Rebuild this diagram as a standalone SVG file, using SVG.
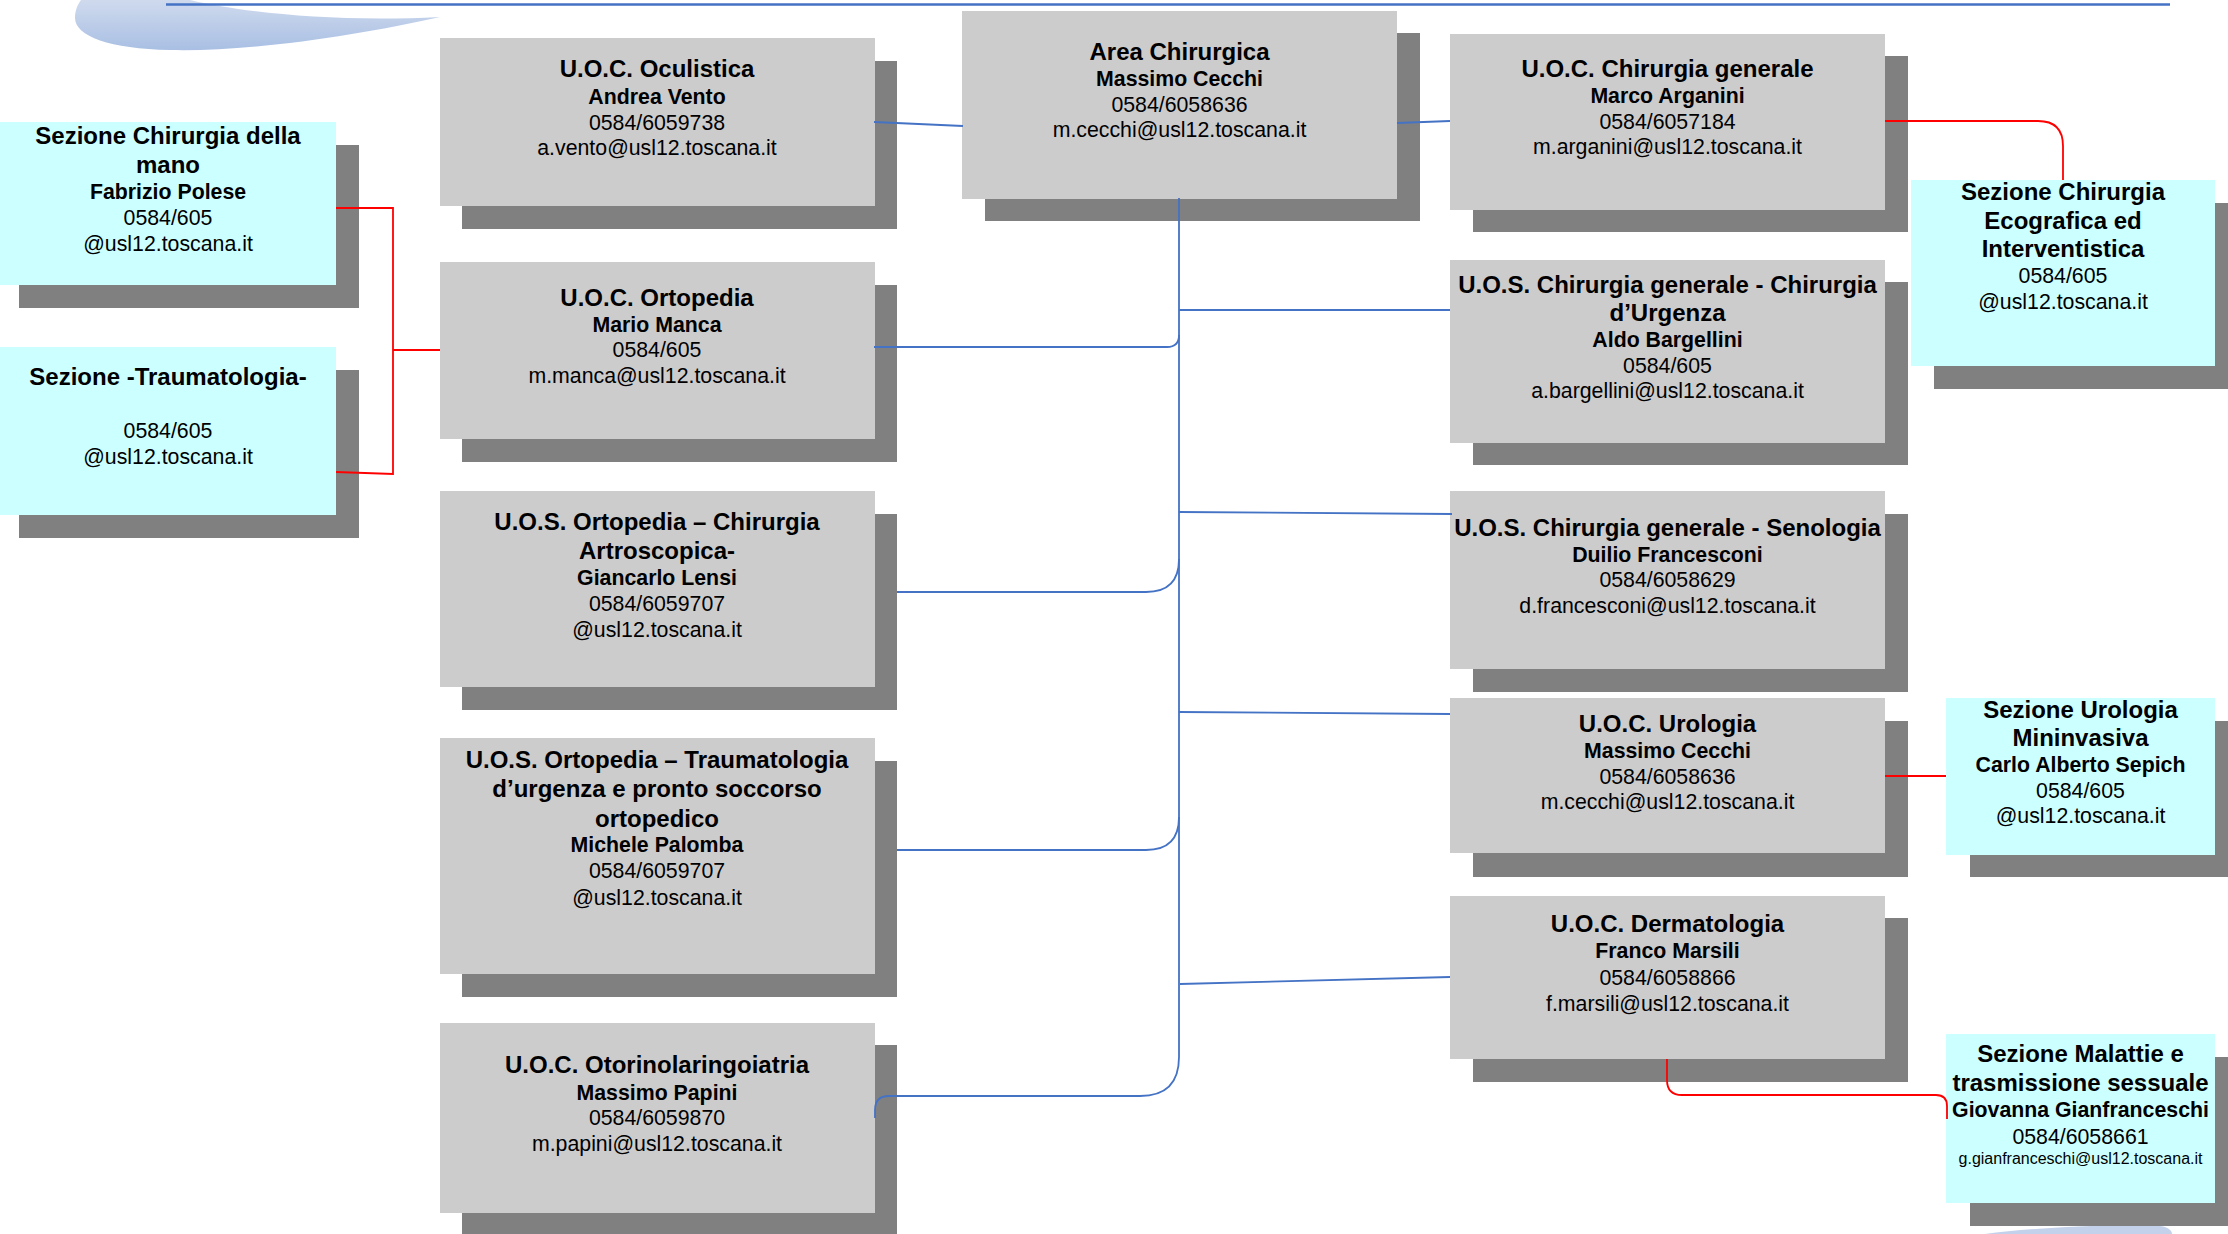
<svg xmlns="http://www.w3.org/2000/svg" width="2228" height="1234" viewBox="0 0 2228 1234">
<style>
.sh{fill:#808080}
.bx{fill:#CCCCCC}
.cy{fill:#CCFFFF}
text{font-family:"Liberation Sans",Arial,sans-serif;fill:#000;text-anchor:middle}
.t{font-size:24px;font-weight:bold}
.n{font-size:21.3px;font-weight:bold}
.b{font-size:21.3px}
.s{font-size:16px}
.bl{fill:none;stroke:#4472C4;stroke-width:1.8}
.rd{fill:none;stroke:#FF0000;stroke-width:1.8}
</style>
<defs>
<linearGradient id="sw" x1="0" y1="0" x2="0" y2="1">
<stop offset="0" stop-color="#CFDAEE"/>
<stop offset="1" stop-color="#A9BFE3"/>
</linearGradient>
</defs>
<g id="decor">
<path d="M190 0 C250 14 340 22 440 17 C360 35 250 52 170 50 C110 49 75 36 75 18 C75 10 78 4 81 0 Z" fill="url(#sw)"/>
<line x1="166" y1="4.5" x2="2170" y2="4.5" stroke="#4472C4" stroke-width="2.5"/>
<path d="M1985 1234 C2030 1228 2100 1224 2160 1226 C2170 1227 2172 1232 2172 1234 Z" fill="#C3D1EA"/>
</g>
<g id="sez-mano">
<rect class="sh" x="19" y="145" width="340" height="163"/>
<rect class="cy" x="0" y="122" width="336" height="163"/>
<text x="168" y="144" class="t">Sezione Chirurgia della</text>
<text x="168" y="173" class="t">mano</text>
<text x="168" y="199" class="n">Fabrizio Polese</text>
<text x="168" y="225" class="b">0584/605</text>
<text x="168" y="251" class="b">@usl12.toscana.it</text>
</g>
<g id="sez-trauma">
<rect class="sh" x="19" y="370" width="340" height="168"/>
<rect class="cy" x="0" y="347" width="336" height="168"/>
<text x="168" y="385" class="t">Sezione -Traumatologia-</text>
<text x="168" y="438" class="b">0584/605</text>
<text x="168" y="464" class="b">@usl12.toscana.it</text>
</g>
<g id="oculistica">
<rect class="sh" x="462" y="61" width="435" height="168"/>
<rect class="bx" x="440" y="38" width="435" height="168"/>
<text x="657" y="77" class="t">U.O.C. Oculistica</text>
<text x="657" y="104" class="n">Andrea Vento</text>
<text x="657" y="130" class="b">0584/6059738</text>
<text x="657" y="155" class="b">a.vento@usl12.toscana.it</text>
</g>
<g id="ortopedia">
<rect class="sh" x="462" y="285" width="435" height="177"/>
<rect class="bx" x="440" y="262" width="435" height="177"/>
<text x="657" y="306" class="t">U.O.C. Ortopedia</text>
<text x="657" y="332" class="n">Mario Manca</text>
<text x="657" y="357" class="b">0584/605</text>
<text x="657" y="383" class="b">m.manca@usl12.toscana.it</text>
</g>
<g id="artroscopica">
<rect class="sh" x="462" y="514" width="435" height="196"/>
<rect class="bx" x="440" y="491" width="435" height="196"/>
<text x="657" y="530" class="t">U.O.S. Ortopedia – Chirurgia</text>
<text x="657" y="559" class="t">Artroscopica-</text>
<text x="657" y="585" class="n">Giancarlo Lensi</text>
<text x="657" y="611" class="b">0584/6059707</text>
<text x="657" y="637" class="b">@usl12.toscana.it</text>
</g>
<g id="traumatologia-urgenza">
<rect class="sh" x="462" y="761" width="435" height="236"/>
<rect class="bx" x="440" y="738" width="435" height="236"/>
<text x="657" y="768" class="t">U.O.S. Ortopedia – Traumatologia</text>
<text x="657" y="797" class="t">d’urgenza e pronto soccorso</text>
<text x="657" y="827" class="t">ortopedico</text>
<text x="657" y="852" class="n">Michele Palomba</text>
<text x="657" y="878" class="b">0584/6059707</text>
<text x="657" y="905" class="b">@usl12.toscana.it</text>
</g>
<g id="otorino">
<rect class="sh" x="462" y="1045" width="435" height="190"/>
<rect class="bx" x="440" y="1023" width="435" height="190"/>
<text x="657" y="1073" class="t">U.O.C. Otorinolaringoiatria</text>
<text x="657" y="1100" class="n">Massimo Papini</text>
<text x="657" y="1125" class="b">0584/6059870</text>
<text x="657" y="1151" class="b">m.papini@usl12.toscana.it</text>
</g>
<g id="area">
<rect class="sh" x="985" y="33" width="435" height="188"/>
<rect class="bx" x="962" y="11" width="435" height="188"/>
<text x="1179.5" y="60" class="t">Area Chirurgica</text>
<text x="1179.5" y="86" class="n">Massimo Cecchi</text>
<text x="1179.5" y="112" class="b">0584/6058636</text>
<text x="1179.5" y="137" class="b">m.cecchi@usl12.toscana.it</text>
</g>
<g id="chir-generale">
<rect class="sh" x="1473" y="56" width="435" height="176"/>
<rect class="bx" x="1450" y="34" width="435" height="176"/>
<text x="1667.5" y="77" class="t">U.O.C. Chirurgia generale</text>
<text x="1667.5" y="103" class="n">Marco Arganini</text>
<text x="1667.5" y="129" class="b">0584/6057184</text>
<text x="1667.5" y="154" class="b">m.arganini@usl12.toscana.it</text>
</g>
<g id="chir-urgenza">
<rect class="sh" x="1473" y="282" width="435" height="183"/>
<rect class="bx" x="1450" y="260" width="435" height="183"/>
<text x="1667.5" y="293" class="t">U.O.S. Chirurgia generale - Chirurgia</text>
<text x="1667.5" y="321" class="t">d’Urgenza</text>
<text x="1667.5" y="347" class="n">Aldo Bargellini</text>
<text x="1667.5" y="373" class="b">0584/605</text>
<text x="1667.5" y="398" class="b">a.bargellini@usl12.toscana.it</text>
</g>
<g id="sez-ecografica">
<rect class="sh" x="1934" y="203" width="304" height="186"/>
<rect class="cy" x="1911" y="180" width="304" height="186"/>
<text x="2063" y="200" class="t">Sezione Chirurgia</text>
<text x="2063" y="229" class="t">Ecografica ed</text>
<text x="2063" y="257" class="t">Interventistica</text>
<text x="2063" y="283" class="b">0584/605</text>
<text x="2063" y="309" class="b">@usl12.toscana.it</text>
</g>
<g id="senologia">
<rect class="sh" x="1473" y="514" width="435" height="178"/>
<rect class="bx" x="1450" y="491" width="435" height="178"/>
<text x="1667.5" y="536" class="t">U.O.S. Chirurgia generale - Senologia</text>
<text x="1667.5" y="562" class="n">Duilio Francesconi</text>
<text x="1667.5" y="587" class="b">0584/6058629</text>
<text x="1667.5" y="613" class="b">d.francesconi@usl12.toscana.it</text>
</g>
<g id="urologia">
<rect class="sh" x="1473" y="721" width="435" height="156"/>
<rect class="bx" x="1450" y="698" width="435" height="155"/>
<text x="1667.5" y="732" class="t">U.O.C. Urologia</text>
<text x="1667.5" y="758" class="n">Massimo Cecchi</text>
<text x="1667.5" y="784" class="b">0584/6058636</text>
<text x="1667.5" y="809" class="b">m.cecchi@usl12.toscana.it</text>
</g>
<g id="sez-urologia">
<rect class="sh" x="1970" y="721" width="269" height="156"/>
<rect class="cy" x="1946" y="698" width="269" height="157"/>
<text x="2080.5" y="718" class="t">Sezione Urologia</text>
<text x="2080.5" y="746" class="t">Mininvasiva</text>
<text x="2080.5" y="772" class="n">Carlo Alberto Sepich</text>
<text x="2080.5" y="798" class="b">0584/605</text>
<text x="2080.5" y="823" class="b">@usl12.toscana.it</text>
</g>
<g id="dermatologia">
<rect class="sh" x="1473" y="918" width="435" height="164"/>
<rect class="bx" x="1450" y="896" width="435" height="163"/>
<text x="1667.5" y="932" class="t">U.O.C. Dermatologia</text>
<text x="1667.5" y="958" class="n">Franco Marsili</text>
<text x="1667.5" y="985" class="b">0584/6058866</text>
<text x="1667.5" y="1011" class="b">f.marsili@usl12.toscana.it</text>
</g>
<g id="sez-malattie">
<rect class="sh" x="1970" y="1057" width="269" height="169"/>
<rect class="cy" x="1946" y="1034" width="269" height="169"/>
<text x="2080.5" y="1062" class="t">Sezione Malattie e</text>
<text x="2080.5" y="1091" class="t">trasmissione sessuale</text>
<text x="2080.5" y="1117" class="n">Giovanna Gianfranceschi</text>
<text x="2080.5" y="1144" class="b">0584/6058661</text>
<text x="2080.5" y="1164" class="s">g.gianfranceschi@usl12.toscana.it</text>
</g>
<g id="connectors">
<path class="bl" d="M874 122 L963 126"/>
<path class="bl" d="M1397 123 L1450 121"/>
<path class="bl" d="M1179 198 L1179 1057 Q1179 1096 1140 1096 L889 1096 Q875 1096 875 1110 L875 1118"/>
<path class="bl" d="M874 347 L1167 347 Q1179 347 1179 335"/>
<path class="bl" d="M897 592 L1146 592 Q1179 592 1179 559"/>
<path class="bl" d="M897 850 L1146 850 Q1179 850 1179 817"/>
<path class="bl" d="M1179 310 L1450 310"/>
<path class="bl" d="M1179 512 L1452 514"/>
<path class="bl" d="M1179 712 L1450 714"/>
<path class="bl" d="M1180 984 L1450 977"/>
<path class="rd" d="M336 208 L393 208 L393 474 L336 472"/>
<path class="rd" d="M393 350 L440 350"/>
<path class="rd" d="M1885 121 L2038 121 Q2063 121 2063 146 L2063 180"/>
<path class="rd" d="M1885 776 L1946 776"/>
<path class="rd" d="M1667 1059 L1667 1080 Q1667 1095 1682 1095 L1936 1095 Q1947 1095 1947 1106 L1947 1119"/>
</g>
</svg>
